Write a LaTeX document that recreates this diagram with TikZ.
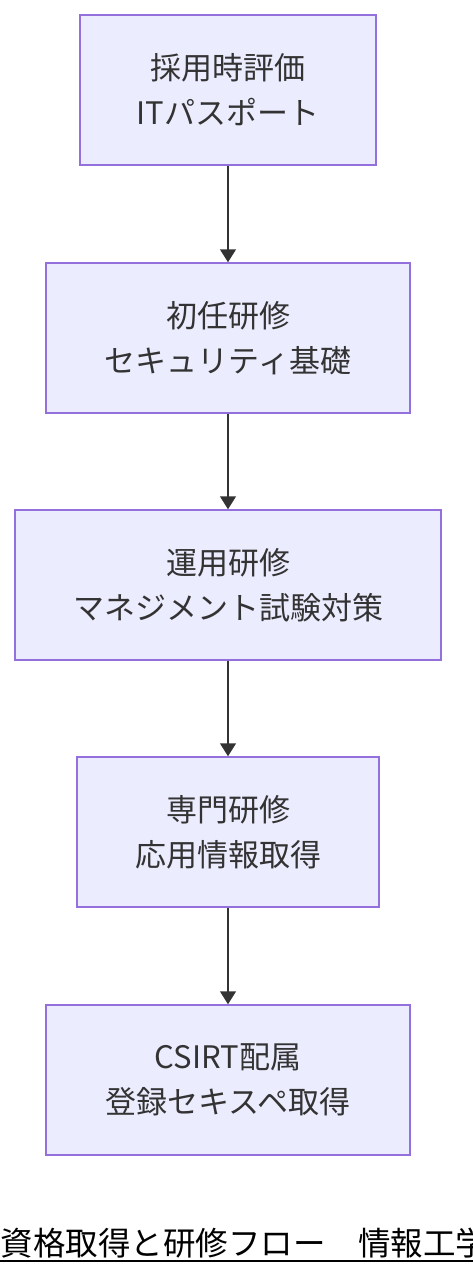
\documentclass[tikz,border=0pt]{standalone}
\usepackage{fontspec}
\setmainfont{Noto Sans CJK JP}
\usepackage{xcolor}
\usetikzlibrary{arrows.meta,positioning}
\definecolor{boxfill}{HTML}{ECECFF}
\definecolor{boxline}{HTML}{9370DB}
\definecolor{ink}{HTML}{333333}

\begin{document}
\begin{tikzpicture}[x=1pt,y=-1pt,line width=1.5pt,
  stage/.style={rectangle,draw=boxline,fill=boxfill,text=ink,align=center,
    inner sep=0pt,minimum height=150pt,font=\fontsize{31}{45}\selectfont},
  flow/.style={>={Triangle[length=13pt,width=16pt]},->,draw=ink}]
        \useasboundingbox (0,0) rectangle (472,1276);
        %%%%%%%%%%%%%%%%%%%%%%%%%%%stages%%%%%%%%%%%%%%%%%%%%%%
          \node (1) at (228,90)   [stage,minimum width=296pt] {採用時評価\\ITパスポート};
          \node (2) at (228,338)  [stage,minimum width=364pt] {初任研修\\セキュリティ基礎};
          \node (3) at (228,585)  [stage,minimum width=426pt] {運用研修\\マネジメント試験対策};
          \node (4) at (228,832)  [stage,minimum width=302pt] {専門研修\\応用情報取得};
          \node (5) at (228,1080) [stage,minimum width=364pt] {CSIRT配属\\登録セキスペ取得};

          \draw [flow](1) -- (2);
          \draw [flow](2) -- (3);
          \draw [flow](3) -- (4);
          \draw [flow](4) -- (5);

        %%%%%%%%%%%%%%%%%%%%%%%%%%%title%%%%%%%%%%%%%%%%%%%%%%
          \node (t) at (0,1255) [anchor=base west,inner sep=0pt,text=black,
            font=\fontsize{32.5}{40}\selectfont] {資格取得と研修フロー　情報工学};
          \draw [black](t.base west) ++(0,6) -- ([yshift=-6pt]t.base east);
        \end{tikzpicture}
\end{document}
